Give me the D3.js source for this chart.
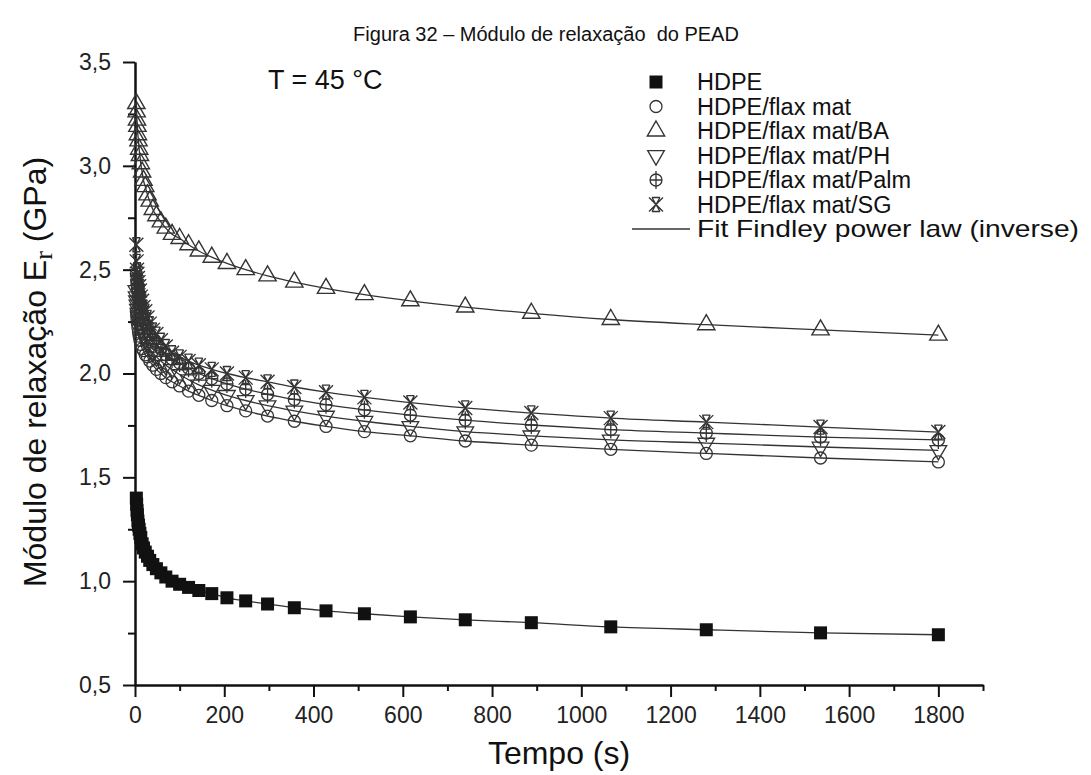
<!DOCTYPE html>
<html>
<head>
	<meta charset="utf-8">
	<title>Módulo de relaxação do PEAD</title>
	<script src="https://d3js.org/d3.v7.min.js"></script>
	<style>
		body { margin: 0; background: #fff; }
		text { font-family: "Liberation Sans", Arial, sans-serif; fill: #111; }
		.axis path, .axis line { stroke: #111; stroke-width: 2; }
		.axis text { font-size: 23px; fill: #222; }
	</style>
</head>
<body>
	<div id="chart"></div>

	<script>
		// time values (s), same sampling for every series
		var tempo = [3, 3.7, 4.5, 5.4, 6.5, 7.8, 9.3, 11, 13, 16, 19, 23, 28, 33, 40, 48,
			58, 69, 83, 100, 120, 143, 172, 206, 248, 297, 357, 428, 514, 617, 740, 888,
			1066, 1280, 1536, 1800];

		// relaxation modulus (GPa)
		var hdpe = [1.40, 1.37, 1.34, 1.32, 1.29, 1.27, 1.25, 1.23, 1.21, 1.18, 1.16, 1.14, 1.12, 1.10, 1.08, 1.06,
			1.04, 1.02, 1.00, 0.985, 0.97, 0.955, 0.94, 0.92, 0.905, 0.89, 0.872, 0.857, 0.843, 0.828, 0.814, 0.80,
			0.78, 0.766, 0.751, 0.742];
		var flaxMat = [2.30, 2.28, 2.26, 2.24, 2.22, 2.20, 2.18, 2.16, 2.14, 2.12, 2.11, 2.09, 2.08, 2.06, 2.04, 2.02,
			2.00, 1.98, 1.96, 1.94, 1.915, 1.895, 1.87, 1.845, 1.82, 1.795, 1.77, 1.745, 1.72, 1.70, 1.675, 1.655,
			1.635, 1.615, 1.593, 1.574];
		var flaxBA = [3.30, 3.26, 3.22, 3.19, 3.15, 3.12, 3.08, 3.05, 3.01, 2.97, 2.93, 2.90, 2.86, 2.83, 2.79, 2.76,
			2.73, 2.70, 2.67, 2.65, 2.62, 2.59, 2.56, 2.53, 2.50, 2.47, 2.44, 2.41, 2.38, 2.35, 2.32, 2.29,
			2.26, 2.235, 2.21, 2.185];
		var flaxPH = [2.40, 2.37, 2.35, 2.33, 2.31, 2.29, 2.27, 2.25, 2.23, 2.21, 2.19, 2.17, 2.15, 2.12, 2.10, 2.08,
			2.06, 2.04, 2.02, 1.995, 1.97, 1.945, 1.92, 1.895, 1.87, 1.845, 1.82, 1.795, 1.77, 1.745, 1.72, 1.70,
			1.68, 1.665, 1.646, 1.63];
		var flaxPalm = [2.48, 2.45, 2.43, 2.41, 2.39, 2.37, 2.35, 2.33, 2.31, 2.29, 2.26, 2.24, 2.22, 2.19, 2.16, 2.14,
			2.12, 2.09, 2.07, 2.05, 2.025, 2.00, 1.975, 1.95, 1.925, 1.90, 1.875, 1.85, 1.825, 1.80, 1.775, 1.752,
			1.73, 1.713, 1.694, 1.68];
		var flaxSG = [2.62, 2.54, 2.50, 2.48, 2.46, 2.44, 2.42, 2.40, 2.37, 2.35, 2.32, 2.30, 2.27, 2.24, 2.21, 2.19,
			2.16, 2.13, 2.10, 2.08, 2.06, 2.04, 2.02, 2.00, 1.98, 1.96, 1.935, 1.91, 1.885, 1.86, 1.834, 1.81,
			1.785, 1.766, 1.742, 1.718];

		var seriesNames = ["HDPE", "HDPE/flax mat", "HDPE/flax mat/BA", "HDPE/flax mat/PH",
			"HDPE/flax mat/Palm", "HDPE/flax mat/SG"];
		var seriesValues = [hdpe, flaxMat, flaxBA, flaxPH, flaxPalm, flaxSG];
		var seriesMarkers = ["square", "circle", "up", "down", "palm", "sg"];

		var xMajor = [0, 200, 400, 600, 800, 1000, 1200, 1400, 1600, 1800];
		var xMinor = [100, 300, 500, 700, 900, 1100, 1300, 1500, 1700, 1900];
		var yMajor = [0.5, 1.0, 1.5, 2.0, 2.5, 3.0, 3.5];
		var yMinor = [0.75, 1.25, 1.75, 2.25, 2.75, 3.25];

		var W = 1091, H = 775;

		var svg = d3.select("#chart").append("svg")
			.attr("width", W)
			.attr("height", H);

		var x = d3.scaleLinear().domain([0, 1900]).range([135, 983]);
		var y = d3.scaleLinear().domain([0.5, 3.5]).range([685, 62]);

		// title
		svg.append("text")
			.attr("x", 546).attr("y", 41)
			.attr("text-anchor", "middle")
			.style("font-size", "20px")
			.attr("xml:space", "preserve")
			.text("Figura 32 – Módulo de relaxação  do PEAD");

		// axes
		var fmt = function (d) { return d.toFixed(1).replace(".", ","); };

		svg.append("g").attr("class", "axis")
			.attr("transform", "translate(0,685)")
			.call(d3.axisBottom(x).tickValues(xMinor).tickSize(6).tickFormat("").tickSizeOuter(0));
		svg.append("g").attr("class", "axis")
			.attr("transform", "translate(0,685)")
			.call(d3.axisBottom(x).tickValues(xMajor).tickSize(12).tickPadding(10)
				.tickFormat(d3.format("d")).tickSizeOuter(0));

		svg.append("g").attr("class", "axis")
			.attr("transform", "translate(135,0)")
			.call(d3.axisLeft(y).tickValues(yMinor).tickSize(7).tickFormat("").tickSizeOuter(0));
		svg.append("g").attr("class", "axis")
			.attr("transform", "translate(135,0)")
			.call(d3.axisLeft(y).tickValues(yMajor).tickSize(12).tickPadding(12).tickFormat(fmt).tickSizeOuter(0));

		// axis titles
		svg.append("text")
			.attr("x", 559).attr("y", 764)
			.attr("text-anchor", "middle")
			.style("font-size", "32px")
			.text("Tempo (s)");

		var yt = svg.append("text")
			.attr("transform", "translate(46,372) rotate(-90)")
			.attr("text-anchor", "middle")
			.style("font-size", "32px");
		yt.append("tspan").text("Módulo de relaxação E");
		yt.append("tspan")
			.style("font-family", "'Liberation Serif', serif")
			.style("font-size", "26px")
			.attr("dy", 6)
			.text("r");
		yt.append("tspan").attr("dy", -6).text(" (GPa)");

		// annotation
		svg.append("text")
			.attr("x", 268).attr("y", 89)
			.style("font-size", "27px")
			.text("T = 45 °C");

		// marker drawing
		function drawMarker(g, type) {
			var c = "#333";
			if (type === "square") {
				g.append("rect").attr("x", -6.5).attr("y", -6.5).attr("width", 13).attr("height", 13)
					.attr("fill", "#111");
			} else if (type === "circle") {
				g.append("circle").attr("r", 6).attr("fill", "none").attr("stroke", c).attr("stroke-width", 1.3);
			} else if (type === "up") {
				g.append("path").attr("d", d3.symbol(d3.symbolTriangle, 130)())
					.attr("fill", "none").attr("stroke", c).attr("stroke-width", 1.4);
			} else if (type === "down") {
				g.append("path").attr("d", d3.symbol(d3.symbolTriangle, 120)())
					.attr("transform", "rotate(180)")
					.attr("fill", "none").attr("stroke", c).attr("stroke-width", 1.3);
			} else if (type === "palm") {
				g.append("circle").attr("r", 6).attr("fill", "none").attr("stroke", c).attr("stroke-width", 1.3);
				g.append("path").attr("d", "M0,-9V9M-6,0H6")
					.attr("stroke", c).attr("stroke-width", 1.3);
			} else if (type === "sg") {
				// X crossed with an hourglass outline
				g.append("path").attr("d", "M-7,-7L7,7M7,-7L-7,7M-4,-7H4M-4,7H4M-4,-7L0,0L4,-7M-4,7L0,0L4,7")
					.attr("fill", "none").attr("stroke", c).attr("stroke-width", 1.3);
			}
		}

		// fit lines
		var line = d3.line()
			.x(function (d) { return x(d[0]); })
			.y(function (d) { return y(d[1]); })
			.curve(d3.curveMonotoneX);

		seriesValues.forEach(function (vals) {
			var pts = tempo.map(function (t, i) { return [t, vals[i]]; });
			svg.append("path")
				.attr("d", line(pts))
				.attr("fill", "none")
				.attr("stroke", "#333")
				.attr("stroke-width", 1.3);
		});

		// markers
		seriesValues.forEach(function (vals, k) {
			var pts = tempo.map(function (t, i) { return [t, vals[i]]; });
			svg.append("g").selectAll("g")
				.data(pts)
				.enter().append("g")
				.attr("transform", function (d) { return "translate(" + x(d[0]) + "," + y(d[1]) + ")"; })
				.each(function () { drawMarker(d3.select(this), seriesMarkers[k]); });
		});

		// legend
		var lx = 656, ltx = 697, ly = 82, lstep = 24.5;
		seriesNames.forEach(function (name, k) {
			var g = svg.append("g").attr("transform", "translate(" + lx + "," + (ly + k * lstep) + ")");
			drawMarker(g, seriesMarkers[k]);
			svg.append("text")
				.attr("x", ltx).attr("y", ly + k * lstep + 8)
				.style("font-size", "23.5px")
				.text(name);
		});
		svg.append("line")
			.attr("x1", 632).attr("x2", 690)
			.attr("y1", ly + 6 * lstep).attr("y2", ly + 6 * lstep)
			.attr("stroke", "#333").attr("stroke-width", 1.5);
		svg.append("text")
			.attr("x", ltx).attr("y", ly + 6 * lstep + 8)
			.style("font-size", "24px")
			.attr("textLength", 382)
			.attr("lengthAdjust", "spacingAndGlyphs")
			.text("Fit Findley power law (inverse)");
	</script>
</body>
</html>
